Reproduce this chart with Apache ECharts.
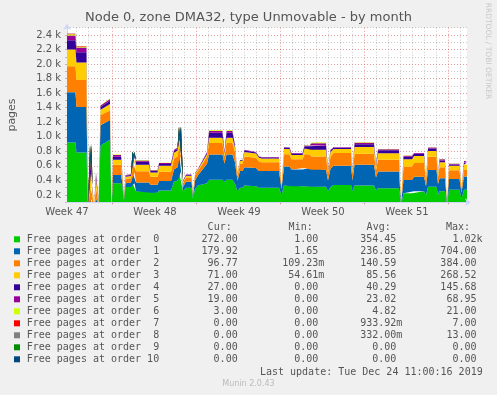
<!DOCTYPE html>
<html><head><meta charset="utf-8">
<script src="https://cdn.jsdelivr.net/npm/echarts@6/dist/echarts.min.js"></script>
<style>html,body{margin:0;padding:0;background:#f0f0f0}#c{width:497px;height:395px}</style>
</head><body><div id="c"></div>
<script>
// time axis: hours since plot start (plot start = 2019-11-21 05:00 UTC)
const hours = [0,17,19,39,42,46,49,51,54,58,63,67,86,89,92,108,111,114,117,128,131,135,138,164,167,181,184,208,214,221,224,228,232,238,249,252,256,262,280,284,311,315,319,331,336,341,346,351,355,378,384,390,424,429,434,445,449,471,475,485,489,518,522,527,533,568,571,575,614,618,622,664,668,673,690,694,714,718,722,739,742,745,756,760,764,785,789,794,800];
const order0 = [921,921,783,783,20,60,60,40,15,60,30,880,960,20,360,360,300,120,310,310,360,360,250,250,230,230,260,260,380,400,520,520,250,300,300,150,280,330,360,410,410,380,410,410,350,250,300,300,330,320,300,300,300,200,330,330,320,320,320,320,314,314,250,310,338,338,250,328,328,260,292,292,60,223,223,250,250,200,314,314,200,250,250,60,270,270,150,272,272];
const order1 = [690,690,626,626,10,80,80,40,10,90,30,280,270,10,115,115,60,30,50,60,150,150,120,120,110,110,130,130,170,180,250,250,60,80,80,40,120,140,270,345,345,250,345,345,300,150,230,230,250,250,230,230,230,80,260,260,230,230,250,250,231,231,150,250,262,262,150,286,286,180,229,229,20,184,184,200,200,120,230,230,150,180,180,30,150,150,80,180,180];
const order2 = [359,359,372,372,8,200,200,100,10,150,40,140,130,5,140,140,60,20,60,60,150,150,155,155,110,110,130,130,150,150,180,180,50,60,60,30,70,60,100,160,160,100,160,160,140,60,100,100,150,140,130,120,120,40,170,170,140,140,190,190,183,183,100,170,175,175,100,151,151,100,162,162,10,183,183,190,190,80,180,180,100,150,150,20,120,120,50,97,97];
const order3 = [230,230,240,240,5,240,240,80,5,120,20,70,90,3,70,70,30,10,30,30,80,80,90,90,60,60,80,80,80,80,110,110,25,25,25,10,20,20,30,70,70,40,70,70,60,30,40,40,60,60,50,50,50,15,70,70,60,60,80,80,92,92,40,60,55,55,40,93,93,50,90,90,5,100,100,95,95,30,80,80,40,70,70,10,60,60,20,71,71];
const order4 = [128,128,140,140,3,190,190,40,3,60,10,40,45,2,40,40,15,5,15,15,30,30,40,40,20,20,25,25,25,25,50,50,10,10,10,5,8,8,20,70,70,20,70,70,30,10,10,10,25,15,15,15,15,5,20,20,20,20,30,30,60,60,15,25,20,20,10,40,40,20,40,40,0,35,35,30,30,10,35,35,10,25,25,0,20,20,5,27,27];
const order5 = [66,66,66,66,2,100,100,20,2,30,5,20,25,1,25,25,10,2,10,10,20,20,20,20,10,10,15,15,15,15,25,25,5,5,5,0,2,2,10,25,25,5,25,25,5,0,0,0,5,5,5,5,5,0,5,5,5,5,10,10,30,30,5,5,5,5,0,20,20,5,15,15,0,15,15,10,10,0,15,15,0,15,15,0,10,10,0,19,19];
const order6 = [15,15,15,15,0,20,20,5,0,5,0,5,5,0,5,5,0,0,0,2,5,5,5,5,3,3,3,3,3,3,5,5,0,0,0,0,0,0,2,10,10,0,10,10,0,0,0,0,0,0,0,0,0,0,0,0,0,0,3,3,10,10,0,0,2,2,0,5,5,0,3,3,0,3,3,2,2,0,3,3,0,3,3,0,2,2,0,3,3];
const order7 = [7,7,5,5,0,0,0,0,0,0,0,0,0,0,0,0,0,0,0,0,0,0,0,0,0,0,0,0,0,0,0,0,0,0,0,0,0,0,0,0,0,0,0,0,0,0,0,0,0,0,0,0,0,0,0,0,0,0,0,0,0,0,0,0,0,0,0,0,0,0,0,0,0,0,0,0,0,0,0,0,0,0,0,0,0,0,0,0,0];
const order8 = [4,4,2,2,0,0,0,0,0,0,0,0,0,0,0,0,0,0,0,0,0,0,0,0,0,0,0,0,0,0,0,0,0,0,0,0,0,0,0,0,0,0,0,0,0,0,0,0,0,0,0,0,0,0,0,0,0,0,0,0,0,0,0,0,0,0,0,0,0,0,0,0,0,0,0,0,0,0,0,0,0,0,0,0,0,0,0,0,0];
const order9 = hours.map(() => 0);
const order10 = hours.map(() => 0);

const seriesNames = ['Free pages at order  0','Free pages at order  1','Free pages at order  2','Free pages at order  3','Free pages at order  4','Free pages at order  5','Free pages at order  6','Free pages at order  7','Free pages at order  8','Free pages at order  9','Free pages at order 10'];
const colors = ['#00CC00','#0066B3','#FF8000','#FFCC00','#330099','#990099','#CCFF00','#FF0000','#808080','#008F00','#00487D'];
const curVals = ['272.00\u00a0','179.92\u00a0','96.77\u00a0','71.00\u00a0','27.00\u00a0','19.00\u00a0','3.00\u00a0','0.00\u00a0','0.00\u00a0','0.00\u00a0','0.00\u00a0'];
const minVals = ['1.00\u00a0','1.65\u00a0','109.23m','54.61m','0.00\u00a0','0.00\u00a0','0.00\u00a0','0.00\u00a0','0.00\u00a0','0.00\u00a0','0.00\u00a0'];
const avgVals = ['354.45\u00a0','236.85\u00a0','140.59\u00a0','85.56\u00a0','40.29\u00a0','23.02\u00a0','4.82\u00a0','933.92m','332.00m','0.00\u00a0','0.00\u00a0'];
const maxVals = ['1.02k','704.00\u00a0','384.00\u00a0','268.52\u00a0','145.68\u00a0','68.95\u00a0','21.00\u00a0','7.00\u00a0','13.00\u00a0','0.00\u00a0','0.00\u00a0'];
const weekLabels = ['Week 47','Week 48','Week 49','Week 50','Week 51'];
const weekLabelHours = [0,176,344,512,680];
const weekStartHours = [91,259,427,595,763];

const T0 = Date.UTC(2019, 10, 21, 5, 0, 0);
const HR = 3600000;
const toT = (h) => T0 + h * HR;
const dayHours = [];
for (let h = 19; h < 800; h += 24) if (weekStartHours.indexOf(h) < 0) dayHours.push(h);

const allOrders = [order0,order1,order2,order3,order4,order5,order6,order7,order8,order9,order10];

const chart = echarts.init(document.getElementById('c'), null, {renderer: 'canvas'});
const mono = '"DejaVu Sans Mono", monospace';
const sans = '"DejaVu Sans", sans-serif';
const txtCol = '#555';

const graphics = [];
graphics.push({type:'text', left:'center', top:11, style:{text:'Node 0, zone DMA32, type Unmovable - by month', font:'13px '+sans, fill:txtCol}});
graphics.push({type:'text', x:12, y:115, rotation:Math.PI/2, style:{text:'pages', font:'11px '+sans, fill:txtCol, align:'center', verticalAlign:'middle'}});
graphics.push({type:'text', x:487.5, y:51, rotation:-Math.PI/2, style:{text:'RRDTOOL / TOBI OETIKER', font:'7.5px '+sans, fill:'#c8c8c8', align:'center', verticalAlign:'middle'}});
const headY = 227.7;
[['Cur:',231.7],['Min:',312.7],['Avg:',390.7],['Max:',470]].forEach(([t,x]) => {
  graphics.push({type:'text', x:x, y:headY, style:{text:t, font:'10px '+mono, fill:txtCol, align:'right', verticalAlign:'middle'}});
});
for (let i = 0; i < 11; i++) {
  const y = 239.3 + 12 * i;
  graphics.push({type:'rect', shape:{x:14, y:y-3, width:6, height:6}, style:{fill:colors[i]}});
  graphics.push({type:'text', x:26.7, y:y, style:{text:seriesNames[i], font:'10px '+mono, fill:txtCol, align:'left', verticalAlign:'middle'}});
  [[curVals,243.7],[minVals,324.3],[avgVals,402.3],[maxVals,482.5]].forEach(([arr,x]) => {
    graphics.push({type:'text', x:x, y:y, style:{text:arr[i], font:'10px '+mono, fill:txtCol, align:'right', verticalAlign:'middle'}});
  });
}
graphics.push({type:'text', x:482.7, y:372.3, style:{text:'Last update: Tue Dec 24 11:00:16 2019', font:'10px '+mono, fill:txtCol, align:'right', verticalAlign:'middle'}});
graphics.push({type:'text', x:248.5, y:384, style:{text:'Munin 2.0.43', font:'8px '+sans, fill:'#bbbbbb', align:'center', verticalAlign:'middle'}});

const axisCol = '#CFD6F8';
const option = {
  backgroundColor: '#F0F0F0',
  animation: false,
  grid: {left:67, right:30, top:27.7, bottom:192.8, show:true, backgroundColor:'#ffffff', borderWidth:0},
  xAxis: [
    {type:'time', min:toT(0), max:toT(800), position:'bottom', z:5,
     axisLine:{show:true, lineStyle:{color:axisCol, width:1}, symbol:['none','arrow'], symbolSize:[6,6], symbolOffset:[0,4]},
     axisTick:{show:false}, axisLabel:{show:false}, splitLine:{show:false}},
    {type:'value', min:0, max:800, position:'bottom',
     axisLine:{show:false},
     axisTick:{show:true, customValues:weekStartHours, length:2, lineStyle:{color:'#e08080'}},
     axisLabel:{customValues:weekLabelHours, formatter:(v) => { const k = weekLabelHours.indexOf(Math.round(v)); return k >= 0 ? weekLabels[k] : ''; }, fontSize:10, fontFamily:sans, color:txtCol, margin:5},
     splitLine:{show:true, lineStyle:{color:'rgba(220,110,110,0.7)', type:[1,2], width:1}}},
    {type:'value', min:0, max:800, position:'bottom',
     axisLine:{show:false}, axisLabel:{show:false},
     axisTick:{show:false, customValues:dayHours},
     splitLine:{show:true, lineStyle:{color:'rgba(150,150,150,0.5)', type:[1,2], width:1}}}
  ],
  yAxis: [
    {type:'value', min:100, max:2500, interval:100,
     axisLine:{show:true, lineStyle:{color:axisCol, width:1}, symbol:['none','arrow'], symbolSize:[6,6], symbolOffset:[0,4]},
     axisTick:{show:true, length:2, lineStyle:{color:'#d0b0b0'}},
     axisLabel:{formatter:(v) => (v % 200 === 0 ? (v/1000).toFixed(1) + ' k' : ''), fontSize:10, fontFamily:sans, color:txtCol, margin:6},
     splitLine:{show:true, lineStyle:{color:['rgba(150,150,150,0.5)','rgba(220,110,110,0.7)'], type:[1,2], width:1}}}
  ],
  graphic: graphics,
  series: allOrders.map((arr, i) => ({
    name: seriesNames[i], type:'line', stack:'total', xAxisIndex:0, yAxisIndex:0,
    data: hours.map((h, j) => [toT(h), arr[j]]),
    symbol:'none', showSymbol:false, silent:true,
    lineStyle:{width:0, opacity:0, color:colors[i]},
    itemStyle:{color:colors[i]},
    areaStyle:{color:colors[i], opacity:1},
    clip:true
  }))
};
chart.setOption(option);
</script></body></html>
